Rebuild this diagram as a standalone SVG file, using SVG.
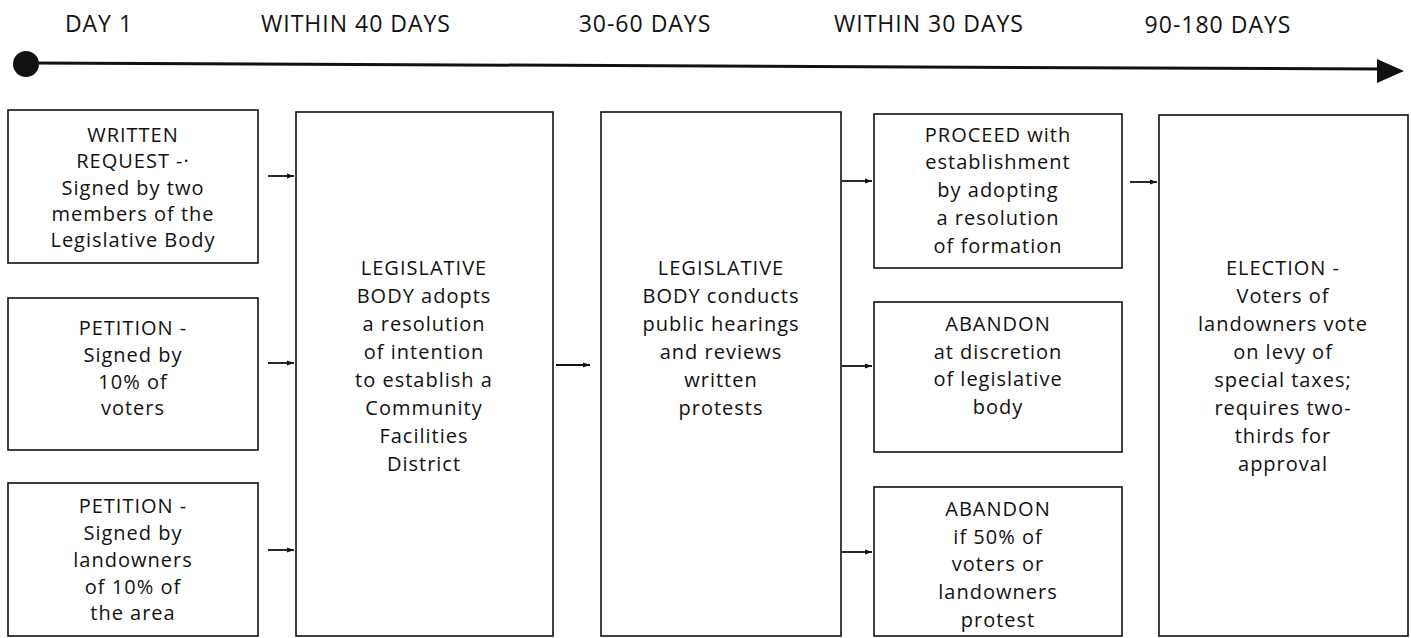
<svg xmlns="http://www.w3.org/2000/svg" width="1411" height="638" viewBox="0 0 1411 638">
<style>
.box{fill:#fff;stroke:#111;stroke-width:1.6}
.t{font-family:"Open Sans","Liberation Sans",sans-serif;font-size:20px;letter-spacing:1px;fill:#111;text-anchor:middle}
.h{font-family:"Open Sans","Liberation Sans",sans-serif;font-size:23px;letter-spacing:1px;fill:#111;text-anchor:middle}
.c{stroke:#111;stroke-width:1.8;fill:none}
</style>
<defs>
<marker id="ah" markerWidth="8" markerHeight="8" refX="7" refY="4" orient="auto" markerUnits="userSpaceOnUse">
<path d="M0,1.5 L7,4 L0,6.5 Z" fill="#111"/>
</marker>
</defs>
<g id="timeline">
<text class="h" x="99" y="32">DAY 1</text>
<text class="h" x="356" y="32">WITHIN 40 DAYS</text>
<text class="h" x="645" y="32">30-60 DAYS</text>
<text class="h" x="929" y="32">WITHIN 30 DAYS</text>
<text class="h" x="1218" y="33">90-180 DAYS</text>
<circle cx="26" cy="64" r="13" fill="#111"/>
<line x1="30" y1="63" x2="1380" y2="69" stroke="#111" stroke-width="3"/>
<polygon points="1377,59 1404,71 1377,83" fill="#111"/>
</g>
<g id="n1">
<rect class="box" x="8" y="110" width="250" height="153"/>
<text class="t" x="133" y="142">WRITTEN</text>
<text class="t" x="133" y="168">REQUEST -·</text>
<text class="t" x="133" y="195">Signed by two</text>
<text class="t" x="133" y="221">members of the</text>
<text class="t" x="133" y="247">Legislative Body</text>
</g>
<g id="n2">
<rect class="box" x="8" y="298" width="250" height="152"/>
<text class="t" x="133" y="335">PETITION -</text>
<text class="t" x="133" y="362">Signed by</text>
<text class="t" x="133" y="389">10% of</text>
<text class="t" x="133" y="415">voters</text>
</g>
<g id="n3">
<rect class="box" x="8" y="483" width="250" height="153"/>
<text class="t" x="133" y="513">PETITION -</text>
<text class="t" x="133" y="540">Signed by</text>
<text class="t" x="133" y="567">landowners</text>
<text class="t" x="133" y="594">of 10% of</text>
<text class="t" x="133" y="620">the area</text>
</g>
<g id="n4">
<rect class="box" x="296" y="112" width="257" height="524"/>
<text class="t" x="424" y="275">LEGISLATIVE</text>
<text class="t" x="424" y="303">BODY adopts</text>
<text class="t" x="424" y="331">a resolution</text>
<text class="t" x="424" y="359">of intention</text>
<text class="t" x="424" y="387">to establish a</text>
<text class="t" x="424" y="415">Community</text>
<text class="t" x="424" y="443">Facilities</text>
<text class="t" x="424" y="471">District</text>
</g>
<g id="n5">
<rect class="box" x="601" y="112" width="240" height="524"/>
<text class="t" x="721" y="275">LEGISLATIVE</text>
<text class="t" x="721" y="303">BODY conducts</text>
<text class="t" x="721" y="331">public hearings</text>
<text class="t" x="721" y="359">and reviews</text>
<text class="t" x="721" y="387">written</text>
<text class="t" x="721" y="415">protests</text>
</g>
<g id="n6">
<rect class="box" x="874" y="114" width="248" height="154"/>
<text class="t" x="998" y="142">PROCEED with</text>
<text class="t" x="998" y="169">establishment</text>
<text class="t" x="998" y="197">by adopting</text>
<text class="t" x="998" y="225">a resolution</text>
<text class="t" x="998" y="253">of formation</text>
</g>
<g id="n7">
<rect class="box" x="874" y="302" width="248" height="150"/>
<text class="t" x="998" y="331">ABANDON</text>
<text class="t" x="998" y="359">at discretion</text>
<text class="t" x="998" y="386">of legislative</text>
<text class="t" x="998" y="414">body</text>
</g>
<g id="n8">
<rect class="box" x="874" y="487" width="248" height="149"/>
<text class="t" x="998" y="516">ABANDON</text>
<text class="t" x="998" y="544">if 50% of</text>
<text class="t" x="998" y="571">voters or</text>
<text class="t" x="998" y="599">landowners</text>
<text class="t" x="998" y="627">protest</text>
</g>
<g id="n9">
<rect class="box" x="1159" y="115" width="249" height="521"/>
<text class="t" x="1283" y="275">ELECTION -</text>
<text class="t" x="1283" y="303">Voters of</text>
<text class="t" x="1283" y="331">landowners vote</text>
<text class="t" x="1283" y="359">on levy of</text>
<text class="t" x="1283" y="387">special taxes;</text>
<text class="t" x="1283" y="415">requires two-</text>
<text class="t" x="1283" y="443">thirds for</text>
<text class="t" x="1283" y="471">approval</text>
</g>
<g id="connectors">
<line class="c" x1="268" y1="176" x2="294" y2="176" marker-end="url(#ah)"/>
<line class="c" x1="268" y1="363" x2="294" y2="363" marker-end="url(#ah)"/>
<line class="c" x1="268" y1="550" x2="294" y2="550" marker-end="url(#ah)"/>
<line class="c" x1="556" y1="365" x2="590" y2="365" marker-end="url(#ah)"/>
<line class="c" x1="842" y1="181" x2="872" y2="181" marker-end="url(#ah)"/>
<line class="c" x1="842" y1="366" x2="872" y2="366" marker-end="url(#ah)"/>
<line class="c" x1="842" y1="552" x2="872" y2="552" marker-end="url(#ah)"/>
<line class="c" x1="1130" y1="182" x2="1157" y2="182" marker-end="url(#ah)"/>
</g>
</svg>
